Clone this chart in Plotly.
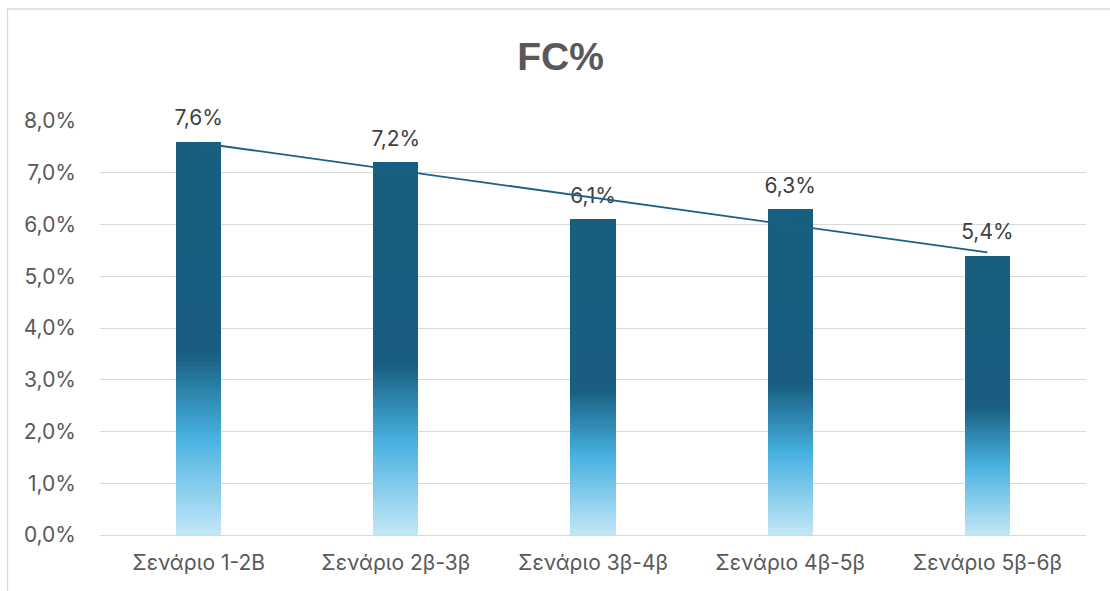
import numpy as np
import plotly.graph_objects as go

# Chart data
categories = ["Σενάριο 1-2Β", "Σενάριο 2β-3β", "Σενάριο 3β-4β", "Σενάριο 4β-5β", "Σενάριο 5β-6β"]
fc_values = [0.076, 0.072, 0.061, 0.063, 0.054]
y_ticks = [0.00, 0.01, 0.02, 0.03, 0.04, 0.05, 0.06, 0.07, 0.08]

# Vertical gradient of the bars (0 = bottom of bar, 1 = top of bar)
grad_stops = [
    (0.00, (0xC4, 0xE7, 0xF6)),
    (0.25, (0x46, 0xB1, 0xE1)),
    (0.46, (0x19, 0x5E, 0x80)),
    (1.00, (0x17, 0x5E, 0x7F)),
]


def grad_color(t):
    for (t0, c0), (t1, c1) in zip(grad_stops[:-1], grad_stops[1:]):
        if t <= t1:
            f = (t - t0) / (t1 - t0) if t1 > t0 else 0
            rgb = [round(a + (b - a) * f) for a, b in zip(c0, c1)]
            return "rgb({},{},{})".format(*rgb)
    return "rgb({},{},{})".format(*grad_stops[-1][1])


FONT = "Inter, Liberation Sans, Arial, sans-serif"
TITLE_FONT = "Liberation Sans, Arial, sans-serif"
BAR_W = 0.23
N_SEG = 100

fig = go.Figure()

# Each bar is built as a stack of thin slices so it shows a vertical gradient
vals = np.array(fc_values)
for k in range(N_SEG):
    t = (k + 0.5) / N_SEG
    fig.add_trace(go.Bar(
        x=categories,
        y=vals / N_SEG,
        width=BAR_W,
        marker=dict(color=grad_color(t), line=dict(width=0)),
        hoverinfo="skip",
        showlegend=False,
    ))

# Value labels above the bars
fig.add_trace(go.Scatter(
    x=categories,
    y=fc_values,
    mode="text+markers",
    marker=dict(size=16, opacity=0),
    text=[f"{v * 100:.1f}%".replace(".", ",") for v in fc_values],
    textposition="top center",
    textfont=dict(family=FONT, size=21, color="#404040"),
    cliponaxis=False,
    hoverinfo="skip",
    showlegend=False,
))

# Linear trend line across the scenarios
xi = np.arange(len(fc_values))
slope, intercept = np.polyfit(xi, vals, 1)
fig.add_trace(go.Scatter(
    x=[categories[0], categories[-1]],
    y=[intercept, intercept + slope * xi[-1]],
    mode="lines",
    line=dict(color="#1A6285", width=1.8),
    hoverinfo="skip",
    showlegend=False,
))

# Outer chart frame (only its left and top edges fall inside the page)
L, R, T, B = 100, 24, 121, 56
W, H = 1110, 591
pw, ph = W - L - R, H - T - B
fig.add_shape(
    type="rect", xref="paper", yref="paper",
    x0=(7.5 - L) / pw, x1=(W + 40 - L) / pw,
    y0=(H - B - (H + 40)) / ph, y1=(H - B - 9) / ph,
    line=dict(color="#D9D9D9", width=1.3), fillcolor="rgba(0,0,0,0)", layer="below",
)

fig.update_layout(
    width=W, height=H,
    margin=dict(l=L, r=R, t=T, b=B),
    barmode="stack",
    bargap=1 - BAR_W,
    separators=",.",
    paper_bgcolor="white",
    plot_bgcolor="white",
    title=dict(
        text="<b>FC%</b>",
        x=0.505, xanchor="center",
        y=1 - 56 / H, yanchor="middle",
        font=dict(family=TITLE_FONT, size=39, color="#595959"),
    ),
    xaxis=dict(
        type="category",
        showgrid=False,
        showline=False,
        ticks="",
        tickfont=dict(family=FONT, size=21, color="#595959"),
        ticklabelstandoff=13,
    ),
    yaxis=dict(
        range=[0, 0.08],
        tickvals=y_ticks,
        tickformat=".1%",
        showgrid=True,
        gridcolor="#D9D9D9",
        gridwidth=1.3,
        zeroline=True,
        zerolinecolor="#D9D9D9",
        zerolinewidth=1.3,
        showline=False,
        ticks="",
        tickfont=dict(family=FONT, size=21, color="#595959"),
        ticklabelstandoff=23,
    ),
)

fig.write_html("out.html")
